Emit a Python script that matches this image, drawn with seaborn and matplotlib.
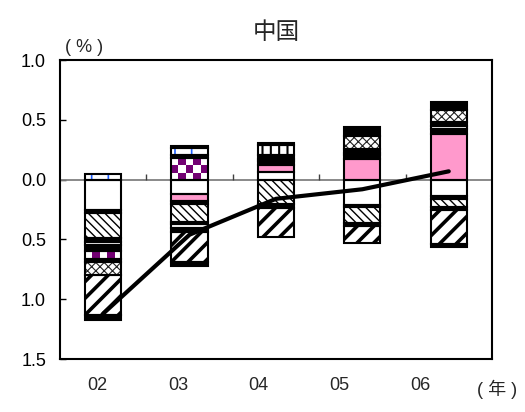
import numpy as np
import matplotlib
matplotlib.use('Agg')
import matplotlib.pyplot as plt
from matplotlib.colors import ListedColormap
from matplotlib.ticker import FuncFormatter
import seaborn as sns

years = ['02', '03', '04', '05', '06']
total = [-1.12, -0.46, -0.16, -0.08, 0.07]

# contributions, stacked outwards from zero in this order
white_a = [-0.25, -0.12, 0.065, -0.21, -0.14]
pink = [0, -0.06, 0.06, 0.17, 0.385]
black_a = [-0.03, -0.02, 0.035, 0.04, 0.035]
black_n = [0, 0, 0, -0.02, -0.025]
backslash = [-0.21, -0.15, -0.20, -0.13, -0.06]
black_b = [-0.035, -0.02, -0.04, -0.03, -0.025]
white_b = [-0.025, -0.03, 0.015, 0.015, 0.025]
black_c = [-0.05, -0.04, 0.035, 0.03, 0.035]
purple = [-0.06, 0.18, 0, 0, 0]
black_d = [-0.03, 0.03, 0, 0, 0]
cross = [-0.11, 0, 0, 0.11, 0.10]
vert = [0, 0, 0.08, 0, 0]
blue = [0.05, 0.055, 0, 0, 0]
black_e = [0, 0.02, 0.015, 0.075, 0.07]
forward = [-0.33, -0.25, -0.24, -0.14, -0.29]
black_f = [-0.04, -0.03, 0, 0, -0.025]

# values, face colour, hatch, hatch colour, hatch width
layers = [
    (white_a, 'white', None, 'white', 1),
    (pink, '#ff99cc', None, '#ff99cc', 1),
    (black_a, 'black', None, 'black', 1),
    (black_n, 'black', None, 'black', 1),
    (backslash, 'white', '\\\\\\\\', 'black', 1.0),
    (black_b, 'black', None, 'black', 1),
    (white_b, 'white', None, 'white', 1),
    (black_c, 'black', None, 'black', 1),
    (purple, '#720072', 'checker', None, 1),
    (black_d, 'black', None, 'black', 1),
    (cross, 'white', 'xxxx', '#222222', 0.8),
    (vert, 'white', '||', 'black', 1.5),
    (blue, 'white', '|', '#1f5fff', 1.2),
    (black_e, 'black', None, 'black', 1),
    (forward, 'white', '//', 'black', 2.6),
    (black_f, 'black', None, 'black', 1),
]

sns.set_style('white')
plt.rcParams['font.family'] = ['Liberation Sans', 'Noto Sans CJK JP']

fig, ax = plt.subplots(figsize=(5.25, 4.12), dpi=100)
fig.subplots_adjust(left=0.1143, right=0.937, bottom=0.1286, top=0.854)

x = np.arange(len(years))
w = 0.42
pos = np.zeros(len(years))
neg = np.zeros(len(years))
for vals, face, hatch, hc, hlw in layers:
    vals = np.array(vals, dtype=float)
    base = np.where(vals >= 0, pos, neg)
    keep = vals != 0
    if hatch == 'checker':
        for xi, b, v in zip(x[keep], base[keep], vals[keep]):
            rows = max(1, int(round(abs(v) / 0.06)))
            grid = np.add.outer(np.arange(rows), np.arange(5)) % 2
            ax.imshow(grid, cmap=ListedColormap(['white', face]),
                      extent=(xi - w / 2, xi + w / 2, b, b + v),
                      aspect='auto', interpolation='nearest', zorder=2)
    else:
        with plt.rc_context({'hatch.linewidth': hlw}):
            bars = ax.bar(x[keep], vals[keep], w, bottom=base[keep], color=face,
                          hatch=hatch, edgecolor=hc, linewidth=0, zorder=2)
            for b in bars:
                if hasattr(b, 'set_hatch_linewidth'):
                    b.set_hatch_linewidth(hlw)
    ax.bar(x[keep], vals[keep], w, bottom=base[keep], fill=False,
           edgecolor='black', linewidth=1.5, zorder=3)
    pos += np.where(vals > 0, vals, 0)
    neg += np.where(vals < 0, vals, 0)

ax.axhline(0, color='#808080', lw=1.3, zorder=1)
ax.vlines(x[:-1] + 0.5, 0, 0.045, color='#404040', lw=1, zorder=1)

sns.lineplot(x=x, y=total, color='black', linewidth=3, ax=ax, zorder=4)

ax.set_xlim(-0.5, 4.5)
ax.set_ylim(-1.5, 1.0)
ax.set_yticks(np.arange(-1.5, 1.01, 0.5))
ax.yaxis.set_major_formatter(FuncFormatter(lambda v, p: '{:.1f}'.format(abs(v))))
ax.tick_params(axis='y', direction='in', length=4, width=1, pad=10,
               labelsize=13, left=True, colors='black')
# year labels sit on a slightly narrower spacing than the bars
ax.set_xticks(x * 0.934 - 0.07, years)
ax.tick_params(axis='x', length=0, pad=13, labelsize=13)
for s in ax.spines.values():
    s.set_color('black')
    s.set_linewidth(1.5)

ax.set_title('中国', fontsize=17, pad=15)
ax.text(0.056, 1.043, '( % )', transform=ax.transAxes, ha='center', va='center',
        fontsize=13)
ax.text(1.012, -0.1, '( 年 )', transform=ax.transAxes, ha='center', va='center',
        fontsize=13)

plt.savefig('out.png', dpi=100)
